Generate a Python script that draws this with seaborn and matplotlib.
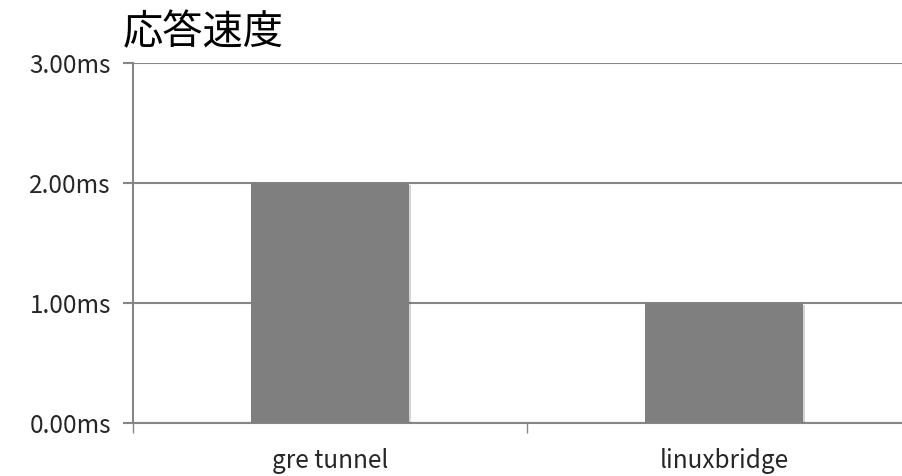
import pandas as pd
import matplotlib
matplotlib.use('Agg')
import matplotlib.pyplot as plt
import matplotlib.patheffects as pe
import seaborn as sns

# Chart data
categories = ['gre tunnel', 'linuxbridge']
response_ms = [2.0, 1.0]
y_ticks = [0, 1, 2, 3]
y_tick_labels = ['0.00ms', '1.00ms', '2.00ms', '3.00ms']
title = '応答速度'

df = pd.DataFrame({'category': categories, 'response': response_ms})

sns.set_theme(style='white')
plt.rcParams['font.family'] = ['Noto Sans CJK JP', 'DejaVu Sans']

fig = plt.figure(figsize=(9.03, 4.76), dpi=100)
# axes run a bit past the right edge, like the original
ax = fig.add_axes([133 / 903, 53 / 476, 788 / 903, 360 / 476])

grid_col = '#868686'
sns.barplot(data=df, x='category', y='response', color='#7f7f7f',
            saturation=1, width=0.4, ax=ax, zorder=3)

# soft shadow on bars
for bar in ax.patches:
    bar.set_path_effects([pe.SimplePatchShadow(offset=(1.5, -1.5), alpha=0.25,
                                               shadow_rgbFace='#555555'),
                          pe.Normal()])
    bar.set_linewidth(0)

ax.set_ylim(0, 3)
ax.set_xlim(-0.5, 1.5)
ax.set_yticks(y_ticks)
ax.set_yticklabels(y_tick_labels)
ax.yaxis.grid(True, color=grid_col, linewidth=1.5, zorder=0)
ax.set_axisbelow(True)

# category boundaries get the tick marks, labels sit at bar centres
ax.set_xticks([-0.5, 0.5, 1.5], minor=True)
ax.tick_params(axis='x', which='major', length=0, pad=18, labelsize=17.5)
ax.tick_params(axis='x', which='minor', length=7, width=1, color=grid_col,
               direction='out', bottom=True)
ax.tick_params(axis='y', length=7, width=1.5, color=grid_col, direction='out',
               left=True, pad=9, labelsize=17.5)

for s in ['top', 'right']:
    ax.spines[s].set_visible(False)
for s in ['left', 'bottom']:
    ax.spines[s].set_color(grid_col)
    ax.spines[s].set_linewidth(1.5)

ax.set_xlabel('')
ax.set_ylabel('')

fig.text(123 / 903, 1 - 33 / 476, title, fontsize=29, va='center', ha='left',
         color='black')

fig.savefig('out.png', dpi=100)
